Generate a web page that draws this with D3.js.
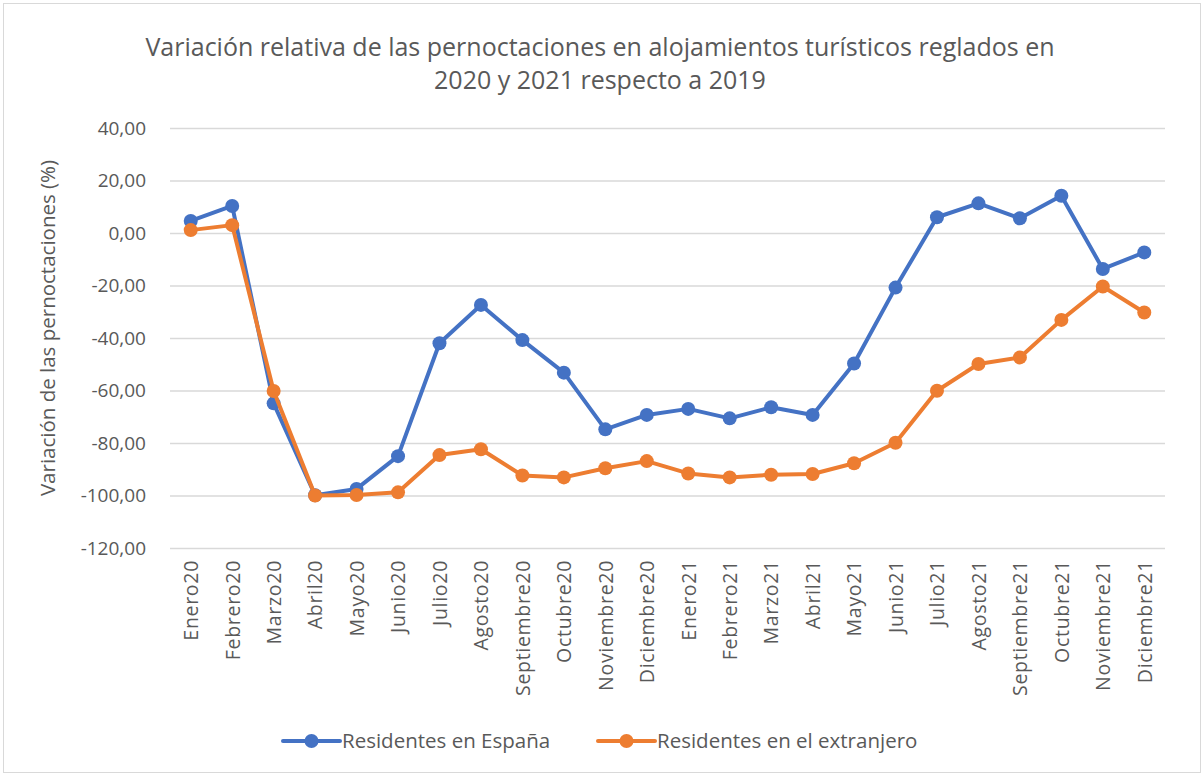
<!DOCTYPE html>
<html>
<head>
<meta charset="utf-8">
<script src="https://cdn.jsdelivr.net/npm/d3@7"></script>
<style>
  body { margin: 0; background: #fff; }
  svg { display: block; font-family: "Open Sans", sans-serif; }
</style>
</head>
<body>
<svg id="chart" width="1204" height="776"></svg>
<script>
// data
const months = ["Enero20", "Febrero20", "Marzo20", "Abril20", "Mayo20", "Junio20", "Julio20", "Agosto20",
  "Septiembre20", "Octubre20", "Noviembre20", "Diciembre20", "Enero21", "Febrero21", "Marzo21", "Abril21",
  "Mayo21", "Junio21", "Julio21", "Agosto21", "Septiembre21", "Octubre21", "Noviembre21", "Diciembre21"];

const residentesEspana = [4.6, 10.3, -64.9, -99.9, -97.5, -85.0, -42.0, -27.4, -40.8, -53.2, -74.8, -69.3,
  -67.0, -70.6, -66.4, -69.3, -49.7, -20.8, 6.0, 11.3, 5.6, 14.2, -13.7, -7.4];

const residentesExtranjero = [1.1, 3.0, -60.2, -100.0, -99.8, -98.8, -84.6, -82.4, -92.4, -93.1, -89.6, -86.9,
  -91.6, -93.1, -92.1, -91.8, -87.7, -79.9, -60.1, -49.9, -47.4, -33.1, -20.4, -30.3];

const yTicks = [40, 20, 0, -20, -40, -60, -80, -100, -120];

const seriesNames = ["Residentes en España", "Residentes en el extranjero"];
const seriesColors = ["#4472c4", "#ed7d31"];

const titleLines = ["Variación relativa de las pernoctaciones en alojamientos turísticos reglados en",
  "2020 y 2021 respecto a 2019"];
const yLabel = "Variación de las pernoctaciones (%)";

const W = 1204, H = 776;
const margin = { top: 128, right: 39, bottom: 228, left: 170 };
const innerW = W - margin.left - margin.right;
const innerH = H - margin.top - margin.bottom;
const textColor = "#595959";

const locale = d3.formatLocale({ decimal: ",", thousands: ".", grouping: [3], currency: ["", "€"], minus: "-" });
const fmt = locale.format(".2f");

const svg = d3.select("#chart");

// chart frame
svg.append("rect").attr("x", 3.5).attr("y", 3.5).attr("width", W - 7).attr("height", H - 7)
  .attr("fill", "#fff").attr("stroke", "#d9d9d9").attr("stroke-width", 1);

// title
const title = svg.append("text").attr("text-anchor", "middle").attr("fill", textColor)
  .style("font-size", "25px");
title.selectAll("tspan").data(titleLines).join("tspan")
  .attr("x", 600).attr("y", (d, i) => 56 + i * 33).text(d => d);

const g = svg.append("g").attr("transform", "translate(" + margin.left + "," + margin.top + ")");

const x = d3.scalePoint().domain(months).range([0, innerW]).padding(0.5);
const y = d3.scaleLinear().domain([-120, 40]).range([innerH, 0]);

// gridlines + y labels
const yAxis = g.append("g").call(d3.axisLeft(y).tickValues(yTicks).tickSize(-innerW).tickFormat(fmt).tickPadding(24));
yAxis.select(".domain").remove();
yAxis.selectAll(".tick line").attr("stroke", "#d9d9d9").attr("stroke-width", 1.3);
yAxis.selectAll(".tick text").attr("fill", textColor).style("font-size", "19px")
  .style("font-family", "Open Sans, sans-serif");

// x labels (rotated)
const xAxis = g.append("g").attr("transform", "translate(0," + innerH + ")")
  .call(d3.axisBottom(x).tickSize(0));
xAxis.select(".domain").remove();
xAxis.selectAll(".tick text")
  .attr("transform", "rotate(-90)")
  .attr("x", -12).attr("y", 0).attr("dy", "0.35em")
  .attr("text-anchor", "end")
  .attr("fill", textColor).style("font-size", "19.5px").style("letter-spacing", "0.7px")
  .style("font-family", "Open Sans, sans-serif");

// y axis title
svg.append("text").attr("transform", "translate(55," + (margin.top + innerH / 2 - 10) + ") rotate(-90)")
  .attr("text-anchor", "middle").attr("fill", textColor).style("font-size", "20.5px").text(yLabel);

// series
const allSeries = [residentesEspana, residentesExtranjero];
const line = d3.line().x((d, i) => x(months[i])).y(d => y(d));

allSeries.forEach((vals, s) => {
  const sg = g.append("g");
  sg.append("path").datum(vals).attr("fill", "none").attr("stroke", seriesColors[s])
    .attr("stroke-width", 4).attr("stroke-linejoin", "round").attr("d", line);
  sg.selectAll("circle").data(vals).join("circle")
    .attr("cx", (d, i) => x(months[i])).attr("cy", d => y(d)).attr("r", 7)
    .attr("fill", seriesColors[s]);
});

// legend
const legendX = [283, 598];
const legend = svg.append("g").attr("transform", "translate(0,741)");
seriesNames.forEach((name, s) => {
  const lg = legend.append("g").attr("transform", "translate(" + legendX[s] + ",0)");
  lg.append("line").attr("x1", 0).attr("x2", 57).attr("y1", 0).attr("y2", 0)
    .attr("stroke", seriesColors[s]).attr("stroke-width", 4).attr("stroke-linecap", "round");
  lg.append("circle").attr("cx", 28.5).attr("cy", 0).attr("r", 7).attr("fill", seriesColors[s]);
  lg.append("text").attr("x", 59).attr("y", 0).attr("dy", "0.35em").attr("fill", textColor)
    .style("font-size", "20.5px").text(name);
});
</script>
</body>
</html>
